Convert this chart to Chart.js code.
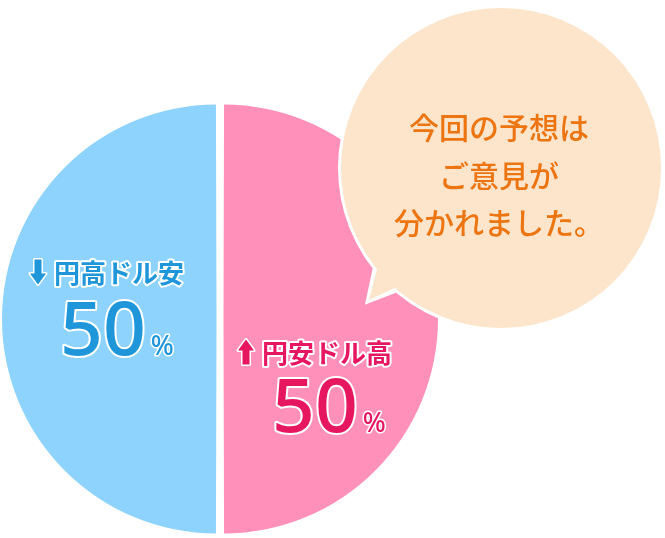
<!DOCTYPE html>
<html>
<head>
<meta charset="utf-8">
<script src="https://cdn.jsdelivr.net/npm/chart.js@4"></script>
<style>
  html, body { margin: 0; padding: 0; background: #fff; }
  #chart_box { width: 665px; height: 538px; }
</style>
</head>
<body>
<div id="chart_box"><canvas id="forecast_chart" width="665" height="538"></canvas></div>
<script>
// data
const sliceLabels = ['円高ドル安', '円安ドル高'];
const sliceValues = [50, 50];
const sliceColors = ['#8ed3fd', '#ff90ba'];
const textColors = ['#1e96d9', '#e6175f'];
const arrowDirs = ['down', 'up'];
const bubbleLines = ['今回の予想は', 'ご意見が', '分かれました。'];

const JP = '"Noto Sans CJK JP", "Noto Sans", sans-serif';

function drawArrow(ctx, x, yMid, dir, color) {
    // thick arrow, 16px wide, 25px tall
    const w = 16, h = 25, head = 11, shaft = 7;
    const top = yMid - h / 2;
    ctx.save();
    ctx.fillStyle = color;
    ctx.strokeStyle = '#fff';
    ctx.lineWidth = 3;
    ctx.lineJoin = 'round';
    ctx.beginPath();
    if (dir === 'down') {
        ctx.moveTo(x + (w - shaft) / 2, top);
        ctx.lineTo(x + (w + shaft) / 2, top);
        ctx.lineTo(x + (w + shaft) / 2, top + h - head);
        ctx.lineTo(x + w, top + h - head);
        ctx.lineTo(x + w / 2, top + h);
        ctx.lineTo(x, top + h - head);
        ctx.lineTo(x + (w - shaft) / 2, top + h - head);
    } else {
        ctx.moveTo(x + (w - shaft) / 2, top + h);
        ctx.lineTo(x + (w + shaft) / 2, top + h);
        ctx.lineTo(x + (w + shaft) / 2, top + head);
        ctx.lineTo(x + w, top + head);
        ctx.lineTo(x + w / 2, top);
        ctx.lineTo(x, top + head);
        ctx.lineTo(x + (w - shaft) / 2, top + head);
    }
    ctx.closePath();
    ctx.stroke();
    ctx.fill();
    ctx.restore();
}

function outlinedText(ctx, text, x, y, font, color, outline) {
    ctx.font = font;
    ctx.lineWidth = outline;
    ctx.strokeStyle = '#fff';
    ctx.lineJoin = 'round';
    ctx.strokeText(text, x, y);
    ctx.fillStyle = color;
    ctx.fillText(text, x, y);
}

const labelPlugin = {
    id: 'slice_labels',
    afterDatasetsDraw(chart) {
        const ctx = chart.ctx;
        const arcs = chart.getDatasetMeta(0).data;
        // label placement relative to the pie centre
        const spots = [
            { ax: -190, ty: -47, nx: -160, ny: 36 },
            { ax: 18, ty: 33, nx: 52, ny: 113 }
        ];
        ctx.save();
        arcs.forEach((arc, i) => {
            const s = spots[i];
            const cx = arc.x, cy = arc.y;
            drawArrow(ctx, cx + s.ax, cy + s.ty, arrowDirs[i], textColors[i]);
            ctx.textAlign = 'left';
            ctx.textBaseline = 'middle';
            outlinedText(ctx, sliceLabels[i], cx + s.ax + 24, cy + s.ty + 1, 'bold 26px ' + JP, textColors[i], 4);
            ctx.textBaseline = 'alphabetic';
            const num = String(sliceValues[i]);
            const numFont = '500 75px "Noto Sans", sans-serif';
            outlinedText(ctx, num, cx + s.nx, cy + s.ny, numFont, textColors[i], 4);
            ctx.font = numFont;
            const nw = ctx.measureText(num).width;
            outlinedText(ctx, '%', cx + s.nx + nw + 5, cy + s.ny, '500 27px "Noto Sans", sans-serif', textColors[i], 3);
        });

        // speech bubble
        const bx = 501, by = 168, br = 160;
        ctx.beginPath();
        ctx.arc(bx, by, br, 0, Math.PI * 2);
        ctx.moveTo(378, 258);
        ctx.lineTo(369, 300);
        ctx.lineTo(405, 286);
        ctx.lineWidth = 6;
        ctx.strokeStyle = '#fff';
        ctx.lineJoin = 'miter';
        ctx.stroke();
        ctx.fillStyle = '#fce5cb';
        ctx.beginPath();
        ctx.arc(bx, by, br, 0, Math.PI * 2);
        ctx.fill();
        ctx.beginPath();
        ctx.moveTo(382, 250);
        ctx.lineTo(369, 300);
        ctx.lineTo(412, 280);
        ctx.closePath();
        ctx.fill();

        ctx.fillStyle = '#ec7512';
        ctx.font = '500 30px ' + JP;
        ctx.textAlign = 'center';
        ctx.textBaseline = 'middle';
        bubbleLines.forEach((line, i) => {
            ctx.fillText(line, 499, 128 + i * 47.5);
        });
        ctx.restore();
    }
};

const ctx = document.getElementById('forecast_chart').getContext('2d');
window.forecastChart = new Chart(ctx, {
    type: 'pie',
    data: {
        labels: sliceLabels,
        datasets: [{
            data: sliceValues,
            backgroundColor: sliceColors,
            borderWidth: 0,
            offset: 14,
            hoverOffset: 0,
            radius: 211
        }]
    },
    options: {
        responsive: false,
        animation: false,
        rotation: 180,
        layout: {
            padding: { left: 0, right: 225, top: 100, bottom: 0 }
        },
        plugins: {
            legend: { display: false },
            tooltip: { enabled: false }
        }
    },
    plugins: [labelPlugin]
});
</script>
</body>
</html>
